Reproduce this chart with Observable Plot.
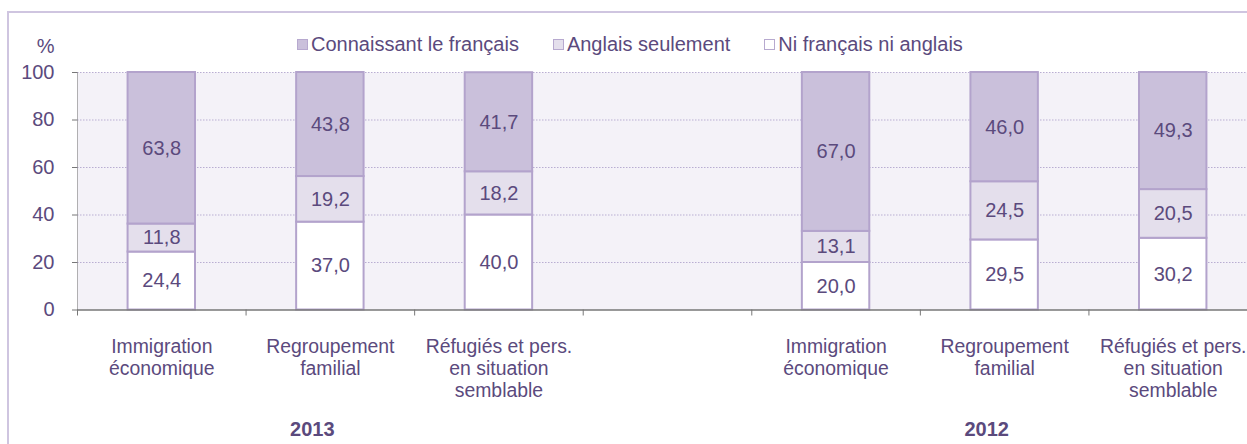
<!DOCTYPE html>
<html>
<head>
<meta charset="utf-8">
<script src="https://cdn.jsdelivr.net/npm/d3@7"></script>
<script src="https://cdn.jsdelivr.net/npm/@observablehq/plot@0.6"></script>
<style>
  html, body { margin: 0; padding: 0; background: #fff; }
  #wrap { position: relative; width: 1247px; height: 444px; overflow: hidden; font-family: "Liberation Sans", Arial, sans-serif; color: #5b4a7d; }
  #border { position: absolute; left: 7px; top: 11px; width: 1400px; height: 600px; border: 2px solid #cfc5e0; box-sizing: border-box; }
  #chart { position: absolute; left: 0; top: 0; }
  #legend { position: absolute; left: 297px; top: 34px; display: flex; align-items: center; height: 21px; font-size: 20px; gap: 34px; white-space: nowrap; }
  #legend .item { display: flex; align-items: center; }
  #legend .sw { width: 9px; height: 9px; border: 1px solid #b7a9cf; margin-right: 3px; }
</style>
</head>
<body>
<div id="wrap">
  <div id="border"></div>
  <div id="chart"></div>
  <div id="legend"></div>
</div>
<script>
// ---- data ----
const years = ["2013", "2012"];
const categories = ["Immigration\néconomique", "Regroupement\nfamilial", "Réfugiés et pers.\nen situation\nsemblable"];
const series = ["Ni français ni anglais", "Anglais seulement", "Connaissant le français"]; // bottom -> top
const legendOrder = ["Connaissant le français", "Anglais seulement", "Ni français ni anglais"];
const colors = ["#ffffff", "#e4dfec", "#cac0db"];
// values per year: [category][series]
const values2013 = [[24.4, 11.8, 63.8], [37.0, 19.2, 43.8], [40.0, 18.2, 41.7]];
const values2012 = [[20.0, 13.1, 67.0], [29.5, 24.5, 46.0], [30.2, 20.5, 49.3]];
const yTicks = [0, 20, 40, 60, 80, 100];

const valuesByYear = [values2013, values2012];
const slotsPerYear = categories.length + 1; // one empty slot between groups
const nSlots = years.length * slotsPerYear - 1;

const rows = [];
const catRows = [];
years.forEach((yr, yi) => {
  categories.forEach((cat, ci) => {
    const slot = yi * slotsPerYear + ci;
    catRows.push({slot, label: cat});
    let acc = 0;
    series.forEach((s, si) => {
      const v = valuesByYear[yi][ci][si];
      rows.push({slot, year: yr, cat, series: s, value: v, y1: acc, y2: Math.min(100, acc + v)});
      acc += v;
    });
  });
});
const yearRows = years.map((yr, yi) => ({year: yr, slot: yi * slotsPerYear + Math.floor(categories.length / 2)}));

const textColor = "#5b4a7d";
const fmt = v => v.toFixed(1).replace(".", ",");

const chart = Plot.plot({
  width: 1247,
  height: 444,
  marginLeft: 77,
  marginRight: -10,
  marginTop: 72,
  marginBottom: 134.5,
  style: {fontFamily: "'Liberation Sans', Arial, sans-serif", fontSize: "20px", color: textColor, background: "transparent", overflow: "visible"},
  x: {type: "linear", domain: [0, nSlots], axis: null},
  y: {domain: [0, 100], axis: null, clamp: true},
  color: {domain: series, range: colors},
  marks: [
    Plot.frame({fill: "#f4f2f8", stroke: null}),
    Plot.ruleY(yTicks.filter(t => t > 0), {stroke: "#b9aed2", strokeWidth: 1, strokeDasharray: "1.5,1.5"}),
    Plot.rect(rows, {
      x1: d => d.slot + 0.3, x2: d => d.slot + 0.7,
      y1: "y1", y2: "y2",
      fill: "series", stroke: "#b3a3cc", strokeWidth: 2
    }),
    Plot.text(rows, {
      x: d => d.slot + 0.5, y: d => (d.y1 + d.y2) / 2,
      text: d => fmt(d.value), fill: textColor, fontSize: 20
    }),
    Plot.ruleX([0], {y1: 0, y2: 100, stroke: "#666", strokeDasharray: "1,1"}),
    Plot.ruleY([0], {stroke: "#777", strokeWidth: 1.5}),
    Plot.axisY({ticks: yTicks, tickSize: 5, tickPadding: 18, stroke: "#777", fill: textColor, fontSize: 20, label: null, tickFormat: d => String(d)}),
    Plot.axisX({ticks: d3.range(0, nSlots + 1), tickSize: 6, stroke: "#777", tickFormat: () => "", label: null}),
    Plot.text(catRows, {
      x: d => d.slot + 0.5, y: () => 0, text: "label",
      lineAnchor: "top", dy: 27, lineHeight: 1.15, fill: textColor, fontSize: 19.4
    }),
    Plot.text(yearRows, {
      x: d => d.slot + 0.5, y: () => 0, text: "year",
      lineAnchor: "top", dy: 112, dx: -18, fontWeight: "bold", fill: textColor, fontSize: 20
    }),
    Plot.text(["%"], {frameAnchor: "top-left", dx: -23, dy: -34, textAnchor: "end", fill: textColor, fontSize: 20})
  ]
});
document.getElementById("chart").appendChild(chart);

// legend
const legend = document.getElementById("legend");
legendOrder.forEach(s => {
  const item = document.createElement("div");
  item.className = "item";
  const sw = document.createElement("div");
  sw.className = "sw";
  sw.style.background = colors[series.indexOf(s)];
  const lab = document.createElement("span");
  lab.textContent = s;
  item.appendChild(sw);
  item.appendChild(lab);
  legend.appendChild(item);
});
</script>
</body>
</html>
